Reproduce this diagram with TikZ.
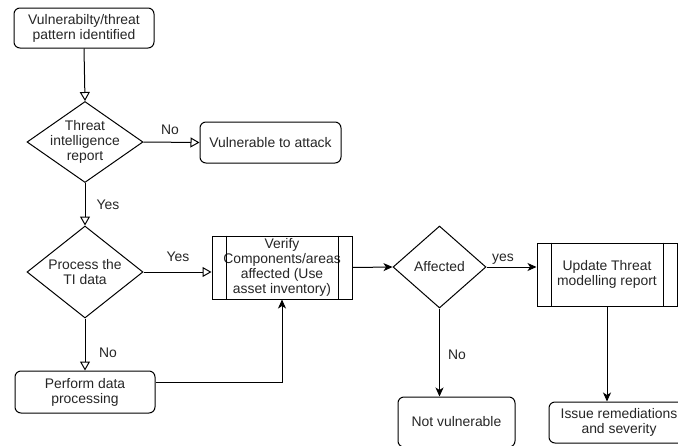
\documentclass[tikz,border=0pt]{standalone}
\usepackage{fontspec}
\setmainfont{Liberation Sans}
\usetikzlibrary{arrows.meta,shapes.geometric}
\begin{document}
\begin{tikzpicture}[x=1pt,y=-1pt,
  every node/.style={font=\fontsize{13.9}{15}\selectfont, text=black!85},
  rbox/.style={draw, line width=1pt, rounded corners=6pt, align=center, inner sep=0pt},
  pbox/.style={draw, line width=1pt, align=center, inner sep=0pt, minimum width=140, minimum height=63},
  dia/.style={draw, diamond, line width=1pt, inner sep=0pt},
  lbl/.style={inner sep=0pt},
  oarr/.style={draw, line width=1pt, -{Triangle[open, length=9pt, width=10pt, line width=1pt]}},
  farr/.style={draw, line width=1pt, -{Stealth[length=9pt, width=8pt, inset=2.5pt]}}]
\useasboundingbox (0,0) rectangle (678,445);
\clip (0,0) rectangle (678,445);
\fill[white] (0,0) rectangle (678,445);
% nodes
\node[rbox, minimum width=140, minimum height=40] (b1) at (84,28) {Vulnerabilty/threat\\pattern identified};
\node[dia, minimum width=116, minimum height=81, label={[align=center]center:Threat\\intelligence\\report}] (d1) at (85,142) {};
\node[rbox, minimum width=141, minimum height=41] (vul) at (270.5,142.5) {Vulnerable to attack};
\node[dia, minimum width=116, minimum height=92, label={[align=center]center:Process the\\TI data}] (d2) at (85,272) {};
\node[pbox] (v) at (282,267.5) {Verify\\Components/areas\\affected (Use\\asset inventory)};
\draw[line width=1pt] ([xshift=15]v.north west) -- ([xshift=15]v.south west);
\draw[line width=1pt] ([xshift=-14]v.north east) -- ([xshift=-14]v.south east);
\node[rbox, minimum width=140, minimum height=42] (pd) at (85,392) {Perform data\\processing};
\node[dia, minimum width=93, minimum height=82, label={center:Affected}] (d3) at (439.5,267) {};
\node[pbox] (u) at (607,274.5) {Update Threat\\modelling report};
\draw[line width=1pt] ([xshift=15]u.north west) -- ([xshift=15]u.south west);
\draw[line width=1pt] ([xshift=-14]u.north east) -- ([xshift=-14]u.south east);
\node[rbox, minimum width=117, minimum height=50] (nv) at (456.5,422) {Not vulnerable};
\node[rbox, minimum width=140, minimum height=41] (is) at (619,422.5) {Issue remediations\\and severity};
% labels
\node[lbl] (l1) at (170,130) {No};
\node[lbl] (l2) at (108,205) {Yes};
\node[lbl] (l3) at (178,257) {Yes};
\node[lbl] (l4) at (108,353) {No};
\node[lbl] (l5) at (503,259) {yes};
\node[lbl] (l6) at (457,355) {No};
% connectors
\draw[oarr] (b1.south) -- (d1.north);
\draw[oarr] (d1.east) -- (vul.west);
\draw[oarr] (d1.south) -- (d2.north);
\draw[oarr] (d2.east) -- (d2.east -| v.west);
\draw[oarr] (d2.south) -- (pd.north);
\draw[farr] ([yshift=10]pd.east) -| (v.south);
\draw[farr] (v.east) -- (d3.west);
\draw[farr] (d3.east) -- (d3.east -| u.west);
\draw[farr] (d3.south) -- (d3.south |- nv.north);
\draw[farr] (u.south) -- (u.south |- is.north);
\end{tikzpicture}
\end{document}
